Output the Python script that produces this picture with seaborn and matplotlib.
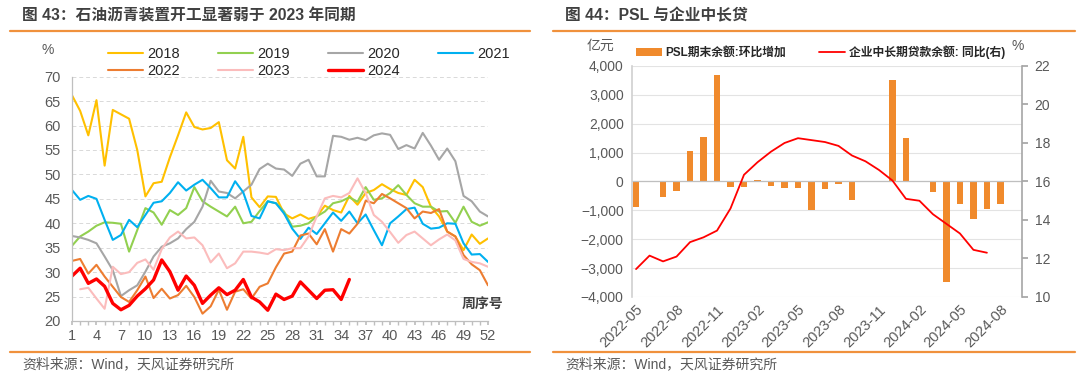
"""Two panels: asphalt plant utilisation by week, PSL vs corporate mid/long-term loans."""

import numpy as np
import matplotlib as mpl
import matplotlib.pyplot as plt
from matplotlib.lines import Line2D
from matplotlib.patches import Patch
from matplotlib.ticker import FuncFormatter, MultipleLocator
import seaborn as sns

sns.set_theme(style="white")
FONTS = ["Liberation Sans", "Noto Sans CJK SC", "DejaVu Sans"]
mpl.rcParams["font.family"] = FONTS
mpl.rcParams["axes.unicode_minus"] = False

# ── data: asphalt plant operating rate (%) by week ───────────────────────────
weeks = list(range(1, 53))
rate_2018 = [66.2, 63, 58, 65.2, 51.8, 63.2, 62.3, 61.4, 55, 45.5, 48.2, 48.5, 53.5,
             58, 62.7, 59.7, 59.2, 59.5, 60.7, 52.9, 51.2, 57.7, 45.3, 43.3, 45.5, 45.4,
             42, 41, 41.8, 40.9, 41.4, 43.6, 42.7, 42.2, 45.6, 43.8, 46.2, 46.8, 48, 47,
             46.2, 45.8, 48.9, 47.4, 43.4, 41.4, 38.3, 37.3, 34.5, 37.7, 35.8, 36.9]
rate_2019 = [35.4, 37.3, 38.3, 39.5, 40.2, 40.1, 39.9, 34.2, 38.6, 43.1, 42.2, 39.7, 42.7,
             41.7, 43.1, 47.4, 44.5, 43.4, 42.4, 41.4, 43.4, 40, 40.3, 42.5, 44.5, 44.1,
             42.4, 39.3, 39.5, 40, 41.4, 42.4, 44.1, 44.5, 45.3, 44.4, 47.4, 44.8, 45.1,
             46.2, 47.8, 45.8, 44.1, 43.4, 43.4, 42.4, 42.5, 40.1, 43.4, 40.3, 39.5, 40.2]
rate_2020 = [37.4, 37.1, 36.6, 35.9, 33.2, 30.4, 25.1, 26.3, 27.3, 30.1, 33.2, 35.2, 35.9,
             36.9, 38.8, 40.3, 43.4, 48.7, 46.5, 46.2, 45.1, 46.5, 47.9, 51.1, 52.2, 51.2,
             51, 49.7, 52.2, 53, 49.6, 49.6, 57.9, 57.7, 57.1, 57.5, 57, 58, 58.4, 58.1,
             55.2, 56, 55.3, 58.5, 55.9, 53, 55.3, 52.7, 45.6, 44.5, 42.4, 41.4]
rate_2021 = [46.8, 44.8, 45.6, 45, 40.7, 36.6, 37.6, 40.7, 39.2, 41.7, 44.2, 44.5, 46.2,
             48.4, 46.7, 47.9, 48.9, 47.2, 45.3, 45.3, 48.6, 46.3, 41.5, 41, 44.5, 44.1,
             42, 38.9, 36.8, 39.1, 37.8, 40, 42.2, 40.5, 42.4, 40, 41.8, 38.6, 35.5, 40,
             41.4, 42.9, 43.2, 39.9, 38.9, 39.1, 40, 39.9, 35.9, 33.6, 33.7, 32.1]
rate_2022 = [32.3, 32.7, 29.7, 31.5, 29.1, 27, 24.9, 23.9, 26.3, 29.1, 24.7, 26.6, 24.6,
             25.3, 27.2, 24.9, 21.5, 23, 26.4, 22.3, 26, 26.5, 24.6, 27, 27.7, 31,
             33.8, 34.2, 37.5, 37.9, 35.7, 38.8, 34.2, 38.8, 37.9, 39.9, 44.6, 44.1, 46,
             45.1, 44.1, 43.1, 41, 42.4, 42.1, 42.9, 38.3, 37.3, 33.5, 31.6, 30.4, 27.3]
rate_2023 = [np.nan, 26.5, 26.8, 24.6, 22.5, 31.1, 29.6, 30, 31.9, 32.6, 30.5, 34.7, 37.1,
             38.3, 36.9, 37.1, 35.5, 32, 33.8, 30.8, 31.8, 34.2, 34.2, 34, 33.7, 34.7,
             34.5, 34.9, 34.9, 37.3, 41.4, 45.1, 45.6, 45.3, 46.2, 49.2, 46.2, 41.7, 40.3,
             38.2, 36, 37.6, 38.3, 36.9, 35.5, 36.7, 37.7, 36.5, 32.7, 32.1, 31.8, 31.1]
rate_2024 = [29.2, 30.8, 27.7, 28.6, 27.1, 23.6, 22.3, 23.2, 25.1, 26.6, 28.4, 32.5, 30.1,
             26.3, 29.2, 27.3, 23.6, 25.3, 26.8, 25.4, 26.3, 28.5, 24.9, 23.9, 22.2, 25.5,
             24.4, 25.1, 28, 26.3, 24.6, 26.3, 26.4, 24.4, 28.5]

years = ["2018", "2019", "2020", "2021", "2022", "2023", "2024"]
year_series = [rate_2018, rate_2019, rate_2020, rate_2021, rate_2022, rate_2023, rate_2024]
year_colors = ["#FFC000", "#92D050", "#A6A6A6", "#00B0F0", "#ED7D31", "#FBBCBC", "#FF0000"]

# ── data: PSL monthly change (亿元) and mid/long-term loan growth (%) ────────────
months = ["2022-05", "2022-06", "2022-07", "2022-08", "2022-09", "2022-10", "2022-11",
          "2022-12", "2023-01", "2023-02", "2023-03", "2023-04", "2023-05", "2023-06",
          "2023-07", "2023-08", "2023-09", "2023-10", "2023-11", "2023-12", "2024-01",
          "2024-02", "2024-03", "2024-04", "2024-05", "2024-06", "2024-07", "2024-08"]
psl_change = [-900, 0, -550, -320, 1070, 1530, 3680, -195, -184, 46, -160, -241, -241,
              -1000, -264, -80, -632, 0, 0, 3500, 1500, 0, -368, -3480, -770, -1287,
              -943, -793]
loan_yoy = [11.45, 12.15, 11.85, 12.1, 12.85, 13.1, 13.45, 14.6, 16.35, 17.0, 17.55, 18.0,
            18.25, 18.15, 18.05, 17.85, 17.35, 17.05, 16.6, 16.05, 15.1, 15.0, 14.3, 13.8,
            13.3, 12.45, 12.3]

TXT = "#404040"
TICK = "#595959"
RULE = "#F0913C"

fig = plt.figure(figsize=(10.8, 3.79), dpi=100)


def px(x, y):
    return x / 1080, 1 - y / 379


def frame(x0, x1, title, x_title):
    fig.text(*px(x_title, 16), title, fontsize=11.3, fontweight="bold", color=TXT,
             va="center", ha="left")
    fig.add_artist(Line2D([x0 / 1080, x1 / 1080], [1 - 31 / 379] * 2,
                          color=RULE, linewidth=1.6))
    fig.add_artist(Line2D([x0 / 1080, x1 / 1080], [1 - 352 / 379] * 2,
                          color=RULE, linewidth=1.6))
    fig.text(*px(x_title, 364), "资料来源：Wind，天风证券研究所", fontsize=10,
             color="#595959", va="center", ha="left")


frame(10, 530, "图 43：石油沥青装置开工显著弱于 2023 年同期", 22)
frame(553, 1075, "图 44：PSL 与企业中长贷", 565)

# ── left panel ───────────────────────────────────────────────────────────────
ax = fig.add_axes([72 / 1080, 1 - 321 / 379, 416 / 1080, 244.3 / 379])
handles = {}
for name, vals, col in zip(years, year_series, year_colors):
    lw = 2.4 if name == "2024" else 1.5
    sns.lineplot(x=weeks[:len(vals)], y=vals, ax=ax, color=col, linewidth=lw)
    handles[name] = Line2D([], [], color=col, linewidth=lw, label=name)

ax.set_xlim(1, 52)
ax.set_ylim(20, 70)
ax.set_xticks(range(1, 53, 3))
ax.xaxis.set_minor_locator(MultipleLocator(1))
ax.yaxis.set_major_locator(MultipleLocator(5))
ax.tick_params(axis="x", which="both", bottom=True, length=3, color="#BFBFBF",
               labelsize=10.5, labelcolor=TICK, pad=3)
ax.tick_params(axis="y", length=0, labelsize=10.5, labelcolor=TICK, pad=8)
ax.grid(axis="y", color="#D9D9D9", linestyle=(0, (4, 3)), linewidth=0.7)
for side in ("top", "right"):
    ax.spines[side].set_visible(False)
for side in ("left", "bottom"):
    ax.spines[side].set_color("#BFBFBF")
    ax.spines[side].set_linewidth(0.9)
ax.text(51.3, 23.5, "周序号", fontsize=10, fontweight="bold", color=TXT,
        ha="center", va="center", clip_on=False)
fig.text(*px(48, 50), "%", fontsize=10, color=TICK, ha="center", va="center")
# legend fills column by column: order so rows read 2018..2021 / 2022..2024
leg_order = ["2018", "2022", "2019", "2023", "2020", "2024", "2021"]
fig.legend(handles=[handles[k] for k in leg_order], ncol=4, loc="upper left",
           bbox_to_anchor=px(108, 47), frameon=False, fontsize=10.5,
           handlelength=2.4, handletextpad=0.3, columnspacing=2.6,
           labelspacing=0.2, borderaxespad=0, borderpad=0)

# ── right panel ──────────────────────────────────────────────────────────────
bx = fig.add_axes([632 / 1080, 1 - 297 / 379, 390 / 1080, 231 / 379])
sns.barplot(x=months, y=psl_change, ax=bx, color="#F08A2C", width=0.5,
            saturation=1, edgecolor="none")
bx.set_xlim(-0.3, 28.6)
bx.set_ylim(-4000, 4000)
bx.yaxis.set_major_locator(MultipleLocator(1000))
bx.yaxis.set_major_formatter(FuncFormatter(lambda v, _: f"{v:,.0f}".replace("-", "−")))
bx.set_xticks(range(0, len(months), 3))
bx.set_xticklabels(months[::3], rotation=45, ha="right", rotation_mode="anchor")
bx.tick_params(axis="x", length=0, labelsize=10.5, labelcolor=TICK, pad=4)
bx.tick_params(axis="y", length=0, labelsize=10, labelcolor=TICK, pad=6)
bx.grid(axis="y", color="#E3E3E3", linewidth=0.8)
bx.set_axisbelow(True)
bx.axhline(0, color="#BFBFBF", linewidth=0.9, zorder=1)
bx.set_xlabel("")
for side in ("top", "right", "bottom"):
    bx.spines[side].set_visible(False)
bx.spines["left"].set_color("#D0D0D0")
bx.spines["left"].set_linewidth(1.2)

bx2 = bx.twinx()
sns.lineplot(x=np.arange(len(loan_yoy)), y=loan_yoy, ax=bx2, color="#FF0000",
             linewidth=1.3)
bx2.set_ylim(10, 22)
bx2.yaxis.set_major_locator(MultipleLocator(2))
bx2.tick_params(axis="y", length=4, color="#A6A6A6", labelsize=10, labelcolor=TICK,
                pad=5, direction="out")
for side in ("top", "left", "bottom"):
    bx2.spines[side].set_visible(False)
bx2.spines["right"].set_color("#A6A6A6")
bx2.spines["right"].set_linewidth(1.2)
bx2.set_xlim(bx.get_xlim())

fig.text(*px(600, 46), "亿元", fontsize=10, color=TICK, ha="center", va="center")
fig.text(*px(1018, 46), "%", fontsize=10, color=TICK, ha="center", va="center")
fig.legend(handles=[Patch(facecolor="#F08A2C", edgecolor="none", label="PSL期末余额:环比增加"),
                    Line2D([], [], color="#FF0000", linewidth=1.3, label="企业中长期贷款余额: 同比(右)")],
           ncol=2, loc="center left", bbox_to_anchor=px(636, 52), frameon=False,
           prop={"size": 8.5, "weight": "bold"}, handlelength=2.2, handleheight=0.7,
           handletextpad=0.3, columnspacing=2.8, borderaxespad=0, borderpad=0)

fig.savefig("out.png", dpi=100)
